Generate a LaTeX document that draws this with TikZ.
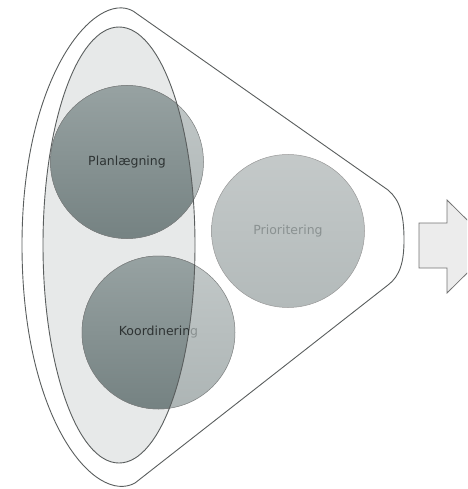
\documentclass[tikz,border=0pt]{standalone}
\usepackage{fontspec}
\setmainfont{DejaVu Sans}
\usetikzlibrary{shapes.geometric}
\definecolor{lineC}{HTML}{5A5E5E}
\definecolor{innerC}{HTML}{E7E9E9}
\definecolor{lightTop}{HTML}{C2C8C8}
\definecolor{lightBot}{HTML}{ADB5B5}
\definecolor{darkTop}{HTML}{97A2A2}
\definecolor{darkBot}{HTML}{758282}
\definecolor{prioTop}{HTML}{C4C9C9}
\definecolor{prioBot}{HTML}{B3BABA}
\definecolor{txtDark}{HTML}{2E3434}
\definecolor{txtLight}{HTML}{8A9191}
\definecolor{arrowC}{HTML}{ECECEC}
\tikzset{
  bubble/.style={circle, minimum size=153pt, inner sep=0pt, draw=lineC!80, line width=0.5pt},
  lightbubble/.style={bubble, top color=lightTop, bottom color=lightBot},
  darkbubble/.style={bubble, top color=darkTop, bottom color=darkBot},
  prio/.style={bubble, draw=gray!80, top color=prioTop, bottom color=prioBot},
  lbl/.style={font=\fontsize{12.5}{14}\selectfont, inner sep=0pt},
  outline/.style={draw=lineC, line width=0.9pt},
}
\begin{document}
\begin{tikzpicture}[x=1pt,y=-1pt]
\useasboundingbox (0,0) rectangle (467,489);
\clip (0,0) rectangle (467,489);
% outer funnel
\draw[outline, fill=white] (133,11) -- (388,190)
  .. controls (400,200) and (404,215) .. (404,240)
  .. controls (404,262) and (400,276) .. (388,285)
  -- (135,483)
  .. controls (95,505) and (22,420) .. (22,245)
  .. controls (22,75) and (95,-10) .. (133,11) -- cycle;
% inner ellipse fill
\node[ellipse, minimum width=152pt, minimum height=436pt, inner sep=0pt, fill=innerC] (inner) at (119,245) {};
% circles (light)
\node[lightbubble] (plan) at (127,162) {};
\node[lightbubble] (koor) at (158.5,332.5) {};
\node[prio] (prio) at (288,231) {};
% dark parts inside the ellipse
\begin{scope}
  \clip (inner.center) ellipse [x radius=76pt, y radius=218pt];
  \node[darkbubble] (plandark) at (plan.center) {};
  \node[darkbubble] (koordark) at (koor.center) {};
\end{scope}
% ellipse outline
\draw[outline] (inner.center) ellipse [x radius=76pt, y radius=218pt];
% labels
\node[lbl, text=txtDark] (planlbl) at (plan.center) {Planlægning};
\node[lbl, text=txtLight] (koorlbl) at (koor.center) {Koordinering};
\begin{scope}
  \clip (inner.center) ellipse [x radius=76pt, y radius=218pt];
  \node[lbl, text=txtDark] (koorlbldark) at (koor.center) {Koordinering};
\end{scope}
\node[lbl, text=txtLight] (priolbl) at (prio.center) {Prioritering};
% arrow
\draw[draw=gray!90!black, line width=0.8pt, fill=arrowC]
  (419,223) -- (447,223) -- (447,200) -- (494,246.5) -- (447,293) -- (447,268) -- (419,268) -- cycle;
\end{tikzpicture}
\end{document}
